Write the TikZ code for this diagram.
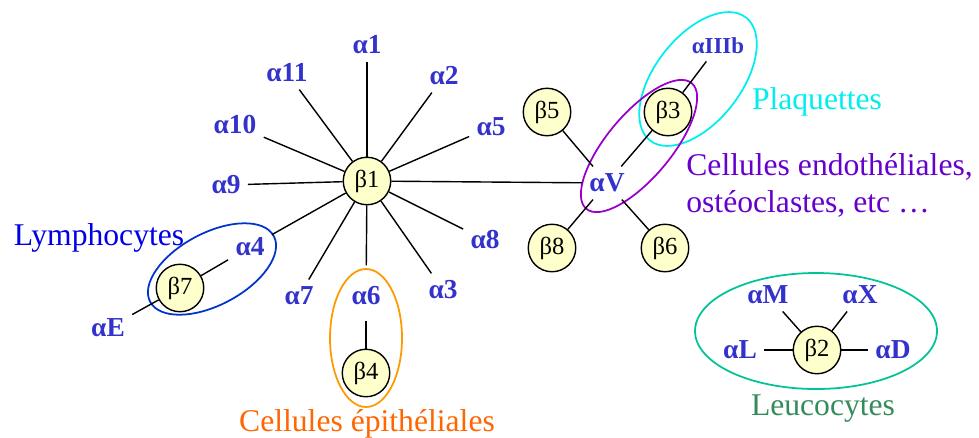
\documentclass[tikz,border=0pt]{standalone}
\usepackage{fontspec}
\setmainfont{Liberation Serif}
\usepackage{tikz}
\usepackage{xcolor}
\usetikzlibrary{positioning}
\definecolor{betafill}{RGB}{255,255,204}
\definecolor{alphacolor}{RGB}{51,51,204}
\definecolor{lymphcolor}{RGB}{0,0,230}
\definecolor{lymphring}{RGB}{0,51,204}
\definecolor{epithcolor}{RGB}{255,102,0}
\definecolor{epithring}{RGB}{255,153,0}
\definecolor{plaqcolor}{RGB}{0,238,238}
\definecolor{endocolor}{RGB}{102,0,204}
\definecolor{endoring}{RGB}{153,0,204}
\definecolor{leucocolor}{RGB}{51,140,90}
\definecolor{leucoring}{RGB}{0,196,150}
\tikzstyle{betanode} = [circle, draw, thick, fill=betafill, minimum size=0.95cm, inner sep=0pt, font=\fontsize{14}{16}\selectfont]
\tikzstyle{alphanode} = [text=alphacolor, inner sep=4pt, font=\bfseries\fontsize{15.6}{18}\selectfont]
\tikzstyle{celltext} = [inner sep=0pt, font=\fontsize{18}{21}\selectfont]
\tikzstyle{link} = [thick]
\tikzstyle{group} = [line width=1pt]

\begin{document}
\begin{tikzpicture}

\useasboundingbox (0,0) rectangle (19.58,-8.74);

% Groups
\draw[group, lymphring, rotate around={28:(4.24,-5.38)}] (4.24,-5.38) ellipse (1.40 and 0.72);
\draw[group, epithring] (7.32,-6.76) ellipse (0.72 and 1.38);
\draw[group, plaqcolor, rotate around={52:(13.96,-1.58)}] (13.96,-1.58) ellipse (1.56 and 0.86);
\draw[group, endoring, rotate around={50:(12.78,-2.92)}] (12.78,-2.92) ellipse (1.64 and 0.64);
\draw[group, leucoring] (16.32,-6.62) ellipse (2.42 and 1.16);

% Beta subunits
\node[betanode] (b1) at (7.34,-3.62) {β1};
\node[betanode] (b2) at (16.34,-7.00) {β2};
\node[betanode] (b3) at (13.36,-2.24) {β3};
\node[betanode] (b4) at (7.32,-7.46) {β4};
\node[betanode] (b5) at (10.94,-2.24) {β5};
\node[betanode] (b6) at (13.30,-4.96) {β6};
\node[betanode] (b7) at (3.60,-5.76) {β7};
\node[betanode] (b8) at (11.04,-4.96) {β8};

% Alpha subunits
\node[alphanode] (a1) at (7.34,-0.90) {α1};
\node[alphanode] (a2) at (8.88,-1.52) {α2};
\node[alphanode] (a3) at (8.86,-5.80) {α3};
\node[alphanode] (a4) at (5.00,-4.94) {α4};
\node[alphanode] (a5) at (9.82,-2.54) {α5};
\node[alphanode] (a6) at (7.32,-5.92) {α6};
\node[alphanode] (a7) at (5.98,-5.92) {α7};
\node[alphanode] (a8) at (9.70,-4.80) {α8};
\node[alphanode] (a9) at (4.52,-3.70) {α9};
\node[alphanode] (a10) at (4.70,-2.50) {α10};
\node[alphanode] (a11) at (5.74,-1.46) {α11};
\node[alphanode] (aV) at (12.14,-3.66) {αV};
\node[alphanode, font=\bfseries\fontsize{13}{15}\selectfont] (aIIIb) at (14.36,-0.92) {αIIIb};
\node[alphanode] (aE) at (2.16,-6.56) {αE};
\node[alphanode] (aM) at (15.36,-5.90) {αM};
\node[alphanode] (aX) at (17.20,-5.90) {αX};
\node[alphanode] (aL) at (14.80,-7.00) {αL};
\node[alphanode] (aD) at (17.86,-7.00) {αD};

% Cell types
\node[celltext, text=lymphcolor] (lympho) at (1.98,-4.76) {Lymphocytes};
\node[celltext, text=epithcolor] (epith) at (7.34,-8.48) {Cellules épithéliales};
\node[celltext, text=plaqcolor] (plaq) at (16.34,-2.04) {Plaquettes};
\node[celltext, text=endocolor, align=left, anchor=base west] (endo) at (13.72,-4.24) {Cellules endothéliales,\\ostéoclastes, etc …};
\node[celltext, text=leucocolor] (leuco) at (16.46,-8.18) {Leucocytes};

% Links
\foreach \a in {a1,a2,a3,a5,a7,a8,a9,a10,a11,aV}
  \draw[link] (b1) -- (\a);
\draw[link] (b1) -- (a4);
\draw[link, shorten >=8pt] (b1) -- (a6);
\draw[link, shorten <=5pt] (a6) -- (b4);
\draw[link] (b7) -- (a4);
\draw[link] (b7) -- (aE);
\draw[link] (b3) -- (aIIIb);
\foreach \b in {b3,b5,b6,b8}
  \draw[link] (aV) -- (\b);
\foreach \a in {aM,aX,aL,aD}
  \draw[link] (b2) -- (\a);

\end{tikzpicture}
\end{document}
